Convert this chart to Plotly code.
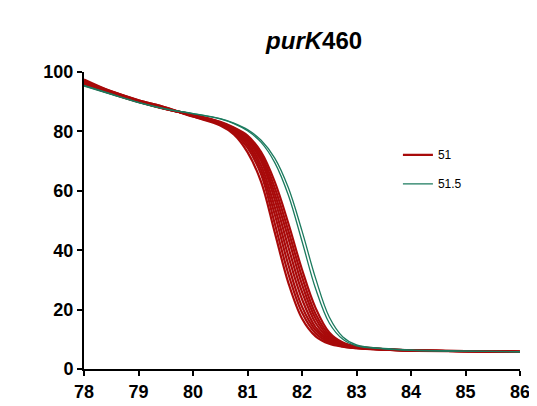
import plotly.graph_objects as go

temps = [78, 78.5, 79, 79.5, 80, 80.5, 80.75, 81, 81.25, 81.5, 81.75, 82, 82.25, 82.5, 82.75, 83, 83.5, 84, 85, 86]

red_curves = [
    [97.5, 93.5, 90.5, 88, 85, 82, 79, 73, 63, 46, 29, 17, 11, 8.5, 7.5, 7, 6.5, 6.2, 6, 5.8],
    [97, 93.5, 90.5, 88, 85, 82.5, 79.5, 74.5, 65.5, 49, 32, 19, 12, 9, 7.6, 7, 6.5, 6.2, 6, 5.8],
    [96.8, 93.3, 90.3, 87.8, 85.2, 82.6, 80, 75.5, 67, 52, 35, 21, 13, 9.4, 7.8, 7.1, 6.5, 6.2, 6, 5.8],
    [96.5, 93.2, 90.2, 87.7, 85.3, 82.7, 80.3, 76.3, 68.5, 54.5, 38, 23.5, 14, 9.8, 8, 7.2, 6.6, 6.2, 6, 5.8],
    [96.3, 93, 90.1, 87.6, 85.4, 82.8, 80.6, 77, 70, 57, 41, 26, 15.5, 10.3, 8.2, 7.3, 6.6, 6.3, 6, 5.8],
    [96, 92.9, 90, 87.6, 85.5, 83, 80.9, 77.6, 71, 59, 44, 28.5, 17, 10.8, 8.4, 7.4, 6.6, 6.3, 6, 5.8],
    [95.8, 92.8, 90, 87.6, 85.6, 83.1, 81.1, 78.1, 72, 61, 46.5, 31, 18.5, 11.5, 8.6, 7.5, 6.7, 6.3, 6, 5.8],
    [95.6, 92.7, 89.9, 87.5, 85.6, 83.2, 81.3, 78.6, 73, 63, 49, 33.5, 20.5, 12.3, 8.9, 7.6, 6.7, 6.3, 6, 5.8],
]

green_curves = [
    [95.5, 92.6, 89.8, 87.6, 86, 84.2, 82.6, 80.2, 76.3, 69.5, 58.5, 43, 27, 15.5, 10, 7.8, 6.8, 6.3, 6, 5.8],
    [95.3, 92.5, 89.7, 87.5, 86, 84.3, 82.8, 80.6, 77, 71, 61, 46.5, 30.5, 17.5, 10.8, 8.1, 6.9, 6.4, 6, 5.8],
]

red = "#A80A0A"
green = "#1B7A5E"

fig = go.Figure()
for i, ys in enumerate(red_curves):
    fig.add_trace(go.Scatter(x=temps, y=ys, mode="lines", line=dict(color=red, width=2.2, shape="spline"),
                             name="51", legendgroup="51", showlegend=(i == 0)))
for i, ys in enumerate(green_curves):
    fig.add_trace(go.Scatter(x=temps, y=ys, mode="lines", line=dict(color=green, width=1.3, shape="spline"),
                             name="51.5", legendgroup="51.5", showlegend=(i == 0)))

axis_style = dict(showline=True, linecolor="black", linewidth=2, ticks="outside", tickwidth=2,
                  ticklen=5, tickcolor="black", showgrid=False, zeroline=False,
                  tickfont=dict(family="Arial", size=18, color="black", weight="bold"))

fig.update_layout(
    width=537, height=406,
    paper_bgcolor="white", plot_bgcolor="white",
    margin=dict(l=76, r=25, t=64, b=27),
    title=dict(text="<i>purK</i>460", x=0.57, y=0.94, xanchor="center",
               font=dict(family="Arial", size=24, color="black", weight="bold")),
    xaxis=dict(range=[78, 86], dtick=1, **axis_style),
    yaxis=dict(range=[0, 100], dtick=20, **axis_style),
    legend=dict(x=0.72, y=0.77, bgcolor="rgba(0,0,0,0)", itemwidth=30,
                font=dict(family="Arial", size=12, color="black")),
)

fig.write_html("out.html")
